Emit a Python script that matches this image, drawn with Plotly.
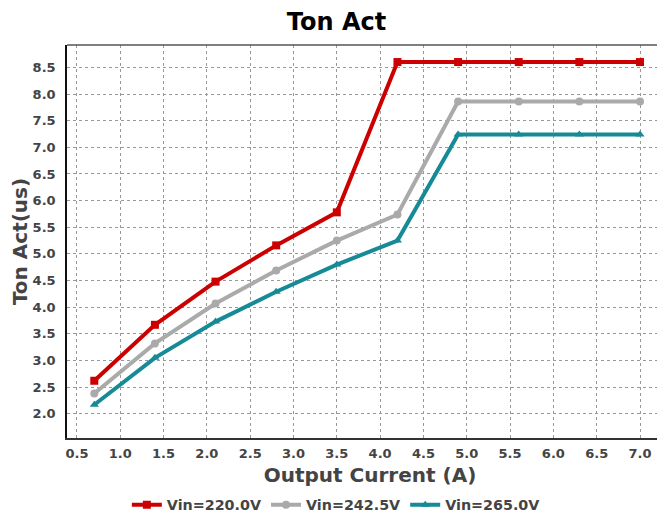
import plotly.graph_objects as go

x_current = [0.7, 1.4, 2.1, 2.8, 3.5, 4.2, 4.9, 5.6, 6.3, 7.0]
ton_220 = [2.62, 3.67, 4.48, 5.16, 5.78, 8.60, 8.60, 8.60, 8.60, 8.60]
ton_2425 = [2.38, 3.32, 4.07, 4.69, 5.25, 5.74, 7.86, 7.86, 7.86, 7.86]
ton_265 = [2.17, 3.05, 3.73, 4.29, 4.80, 5.25, 7.24, 7.24, 7.24, 7.24]
series_names = ["Vin=220.0V", "Vin=242.5V", "Vin=265.0V"]
x_ticks = [0.5, 1.0, 1.5, 2.0, 2.5, 3.0, 3.5, 4.0, 4.5, 5.0, 5.5, 6.0, 6.5, 7.0]
y_ticks = [2.0, 2.5, 3.0, 3.5, 4.0, 4.5, 5.0, 5.5, 6.0, 6.5, 7.0, 7.5, 8.0, 8.5]

colors = ["#CC0000", "#AAAAAA", "#168A96"]
symbols = ["square", "circle", "triangle-up"]

fig = go.Figure()
for name, ys, c, s in zip(series_names, [ton_220, ton_2425, ton_265], colors, symbols):
    fig.add_trace(go.Scatter(
        x=x_current, y=ys, name=name, mode="lines+markers",
        line=dict(color=c, width=4),
        marker=dict(symbol=s, size=8, color=c),
    ))

font_family = "DejaVu Sans"
fig.update_layout(
    width=665, height=514,
    margin=dict(l=59, r=0, t=37, b=84),
    paper_bgcolor="white", plot_bgcolor="white",
    title=dict(text="Ton Act", xref="container", x=0.494, xanchor="center",
               yref="container", y=0.973, yanchor="middle",
               font=dict(family=font_family, size=24, color="black", weight="bold")),
    font=dict(family=font_family, color="#444444"),
    showlegend=True,
    legend=dict(orientation="h", xref="container", x=0.493, xanchor="center",
                yref="container", y=0.033, yanchor="middle",
                font=dict(family=font_family, size=14.3, color="#444444", weight="bold"),
                itemwidth=30, tracegroupgap=0, traceorder="normal"),
)
fig.update_xaxes(
    range=[0.385, 7.381], tickvals=x_ticks, ticktext=[f"{v:.1f}" for v in x_ticks],
    tickfont=dict(size=13, color="#444444", weight="bold"), ticklabelstandoff=3,
    title=dict(text="Output Current (A)", font=dict(size=20, color="#444444", weight="bold"), standoff=8),
    showgrid=True, gridcolor="#999999", griddash="dot", gridwidth=1,
    showline=True, linecolor="#333333", linewidth=1.5, mirror=False,
    ticks="", zeroline=False, automargin=False,
)
fig.update_yaxes(
    range=[1.546, 8.92], tickvals=y_ticks, ticktext=[f"{v:.1f}" for v in y_ticks],
    tickfont=dict(size=13, color="#444444", weight="bold"), ticklabelstandoff=7,
    title=dict(text="Ton Act(us)", font=dict(size=20, color="#444444", weight="bold"), standoff=8),
    showgrid=True, gridcolor="#999999", griddash="dot", gridwidth=1,
    showline=True, linecolor="#111111", linewidth=1.5, mirror=False,
    ticks="", zeroline=False, automargin=False,
)
# top frame line
fig.add_shape(type="line", xref="paper", yref="paper", x0=0, y0=1, x1=1, y1=1,
              line=dict(color="#555555", width=1.5))
fig.write_html("out.html")
